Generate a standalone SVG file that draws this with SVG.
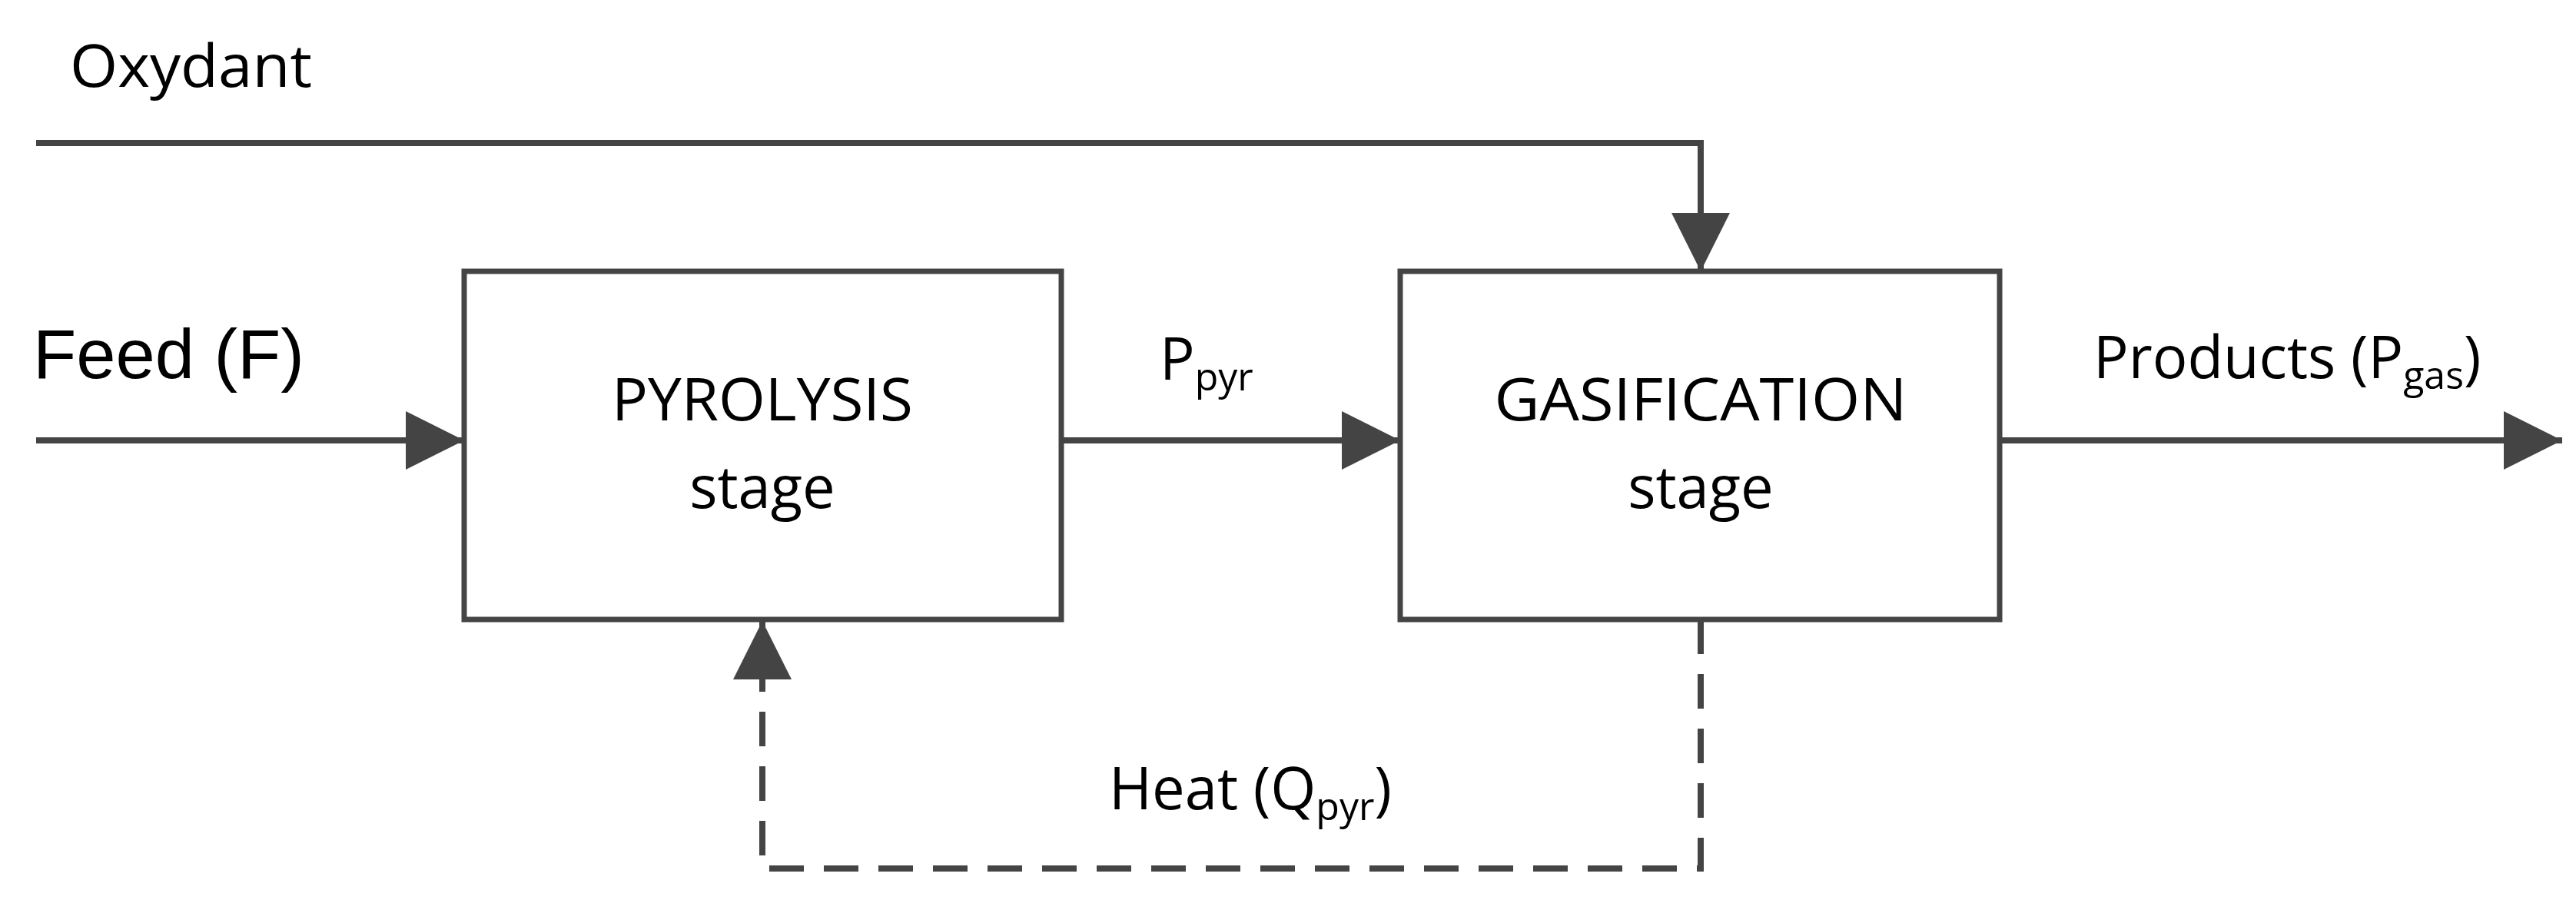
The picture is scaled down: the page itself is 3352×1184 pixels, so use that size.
<svg xmlns="http://www.w3.org/2000/svg" width="3352" height="1184" viewBox="0 0 3352 1184">
<style>
.ln{stroke:#444;stroke-width:8;fill:none}
.box{stroke:#444;stroke-width:7;fill:#fff}
.t{font-family:"Open Sans","Liberation Sans",sans-serif;fill:#000;font-size:76px}
.d{stroke-dasharray:45 26}
</style>
<defs>
<marker id="ah" viewBox="0 0 10 10" refX="10" refY="5" markerWidth="80" markerHeight="76" markerUnits="userSpaceOnUse" orient="auto"><path d="M0,0L10,5L0,10z" fill="#444"/></marker>
</defs>
<g id="connectors">
<polyline class="ln" points="47,186 2213,186 2213,353" marker-end="url(#ah)"/>
<line class="ln" x1="47" y1="573" x2="604" y2="573" marker-end="url(#ah)"/>
<line class="ln" x1="1381" y1="573" x2="1822" y2="573" marker-end="url(#ah)"/>
<line class="ln" x1="2602" y1="573" x2="3334" y2="573" marker-end="url(#ah)"/>
<polyline class="ln d" points="2213,806 2213,1130 992,1130 992,808" marker-end="url(#ah)"/>
</g>
<g id="pyrolysis">
<rect class="box" x="604" y="353" width="777" height="453"/>
<text class="t" x="992" y="547" text-anchor="middle" textLength="392" lengthAdjust="spacingAndGlyphs">PYROLYSIS</text>
<text class="t" x="992" y="661" text-anchor="middle">stage</text>
</g>
<g id="gasification">
<rect class="box" x="1822" y="353" width="780" height="453"/>
<text class="t" x="2213" y="547" text-anchor="middle" textLength="537" lengthAdjust="spacingAndGlyphs">GASIFICATION</text>
<text class="t" x="2213" y="661" text-anchor="middle">stage</text>
</g>
<g id="labels">
<text class="t" x="91" y="113" textLength="315" lengthAdjust="spacingAndGlyphs">Oxydant</text>
<text x="43" y="492" style="font-family:'Liberation Sans',Arial,sans-serif;font-size:90px" textLength="353" lengthAdjust="spacingAndGlyphs">Feed (F)</text>
<text class="t" x="1509" y="494">P<tspan font-size="50" dy="14">pyr</tspan></text>
<text class="t" x="2724" y="492">Products (P<tspan font-size="50" dy="14">gas</tspan><tspan dy="-14">)</tspan></text>
<text class="t" x="1443" y="1053">Heat (Q<tspan font-size="50" dy="14">pyr</tspan><tspan dy="-14">)</tspan></text>
</g>
</svg>
